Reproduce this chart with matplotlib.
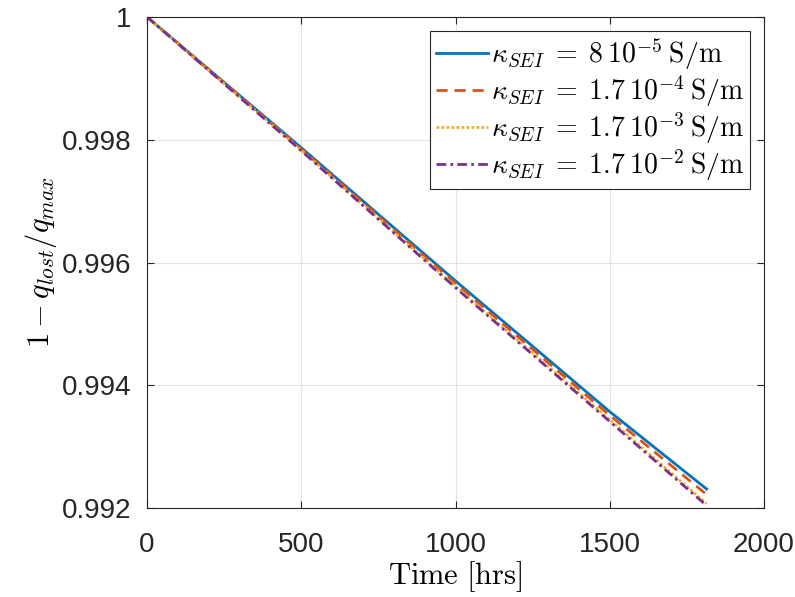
import matplotlib
matplotlib.use('Agg')
import matplotlib.pyplot as plt
import numpy as np

# time points [hrs]
t = [0, 500, 1000, 1500, 1814]

# 1 - q_lost/q_max for each SEI conductivity
q_8e5 = [1.0, 0.99787, 0.99570, 0.99357, 0.99231]
q_17e4 = [1.0, 0.99785, 0.99566, 0.99351, 0.99222]
q_17e3 = [1.0, 0.99783, 0.99561, 0.99344, 0.99207]
q_17e2 = [1.0, 0.99782, 0.99559, 0.99341, 0.99204]

labels = [r'$\kappa_{SEI}\;=\;8\:10^{-5}\:\mathrm{S/m}$',
          r'$\kappa_{SEI}\;=\;1.7\:10^{-4}\:\mathrm{S/m}$',
          r'$\kappa_{SEI}\;=\;1.7\:10^{-3}\:\mathrm{S/m}$',
          r'$\kappa_{SEI}\;=\;1.7\:10^{-2}\:\mathrm{S/m}$']

xticks = [0, 500, 1000, 1500, 2000]
yticks = [0.992, 0.994, 0.996, 0.998, 1.0]
yticklabels = ['0.992', '0.994', '0.996', '0.998', '1']

plt.rcParams['mathtext.fontset'] = 'cm'
plt.rcParams['font.family'] = ['Liberation Sans', 'DejaVu Sans']

fig = plt.figure(figsize=(7.95, 5.97), dpi=100)
ax = fig.add_axes([0.185, 0.149, 0.776, 0.8225])

ax.plot(t, q_8e5, color='#0072BD', lw=2.0, ls='-', label=labels[0])
ax.plot(t, q_17e4, color='#D95319', lw=2.0, ls=(0, (4, 2.5)), label=labels[1])
ax.plot(t, q_17e3, color='#EDB120', lw=2.0, ls=(0, (1, 0.8)), label=labels[2])
ax.plot(t, q_17e2, color='#7E2F8E', lw=2.0, ls=(0, (3.5, 1.5, 1, 1.5)), label=labels[3])

ax.set_xlim(0, 2000)
ax.set_ylim(0.992, 1.0)
ax.set_xticks(xticks)
ax.set_yticks(yticks)
ax.set_yticklabels(yticklabels)
ax.tick_params(direction='in', labelsize=20, colors='#262626', length=5,
               top=True, right=True, labeltop=False, labelright=False)
ax.tick_params(axis='x', pad=17)
ax.tick_params(axis='y', pad=11)
ax.grid(True, color='#e3e3e3', lw=0.8)
for s in ax.spines.values():
    s.set_color('#262626')
    s.set_linewidth(0.8)

ax.set_xlabel(r'$\mathrm{Time\ [hrs]}$', fontsize=22, labelpad=1)
ax.set_ylabel(r'$1-q_{lost}/q_{max}$', fontsize=22, labelpad=2)

leg = ax.legend(loc='upper right', fontsize=20, fancybox=False, framealpha=1,
                edgecolor='#262626', handlelength=1.9, handletextpad=0.1,
                borderpad=0.2, labelspacing=0.05, borderaxespad=0.5)
leg.get_frame().set_linewidth(0.8)

fig.savefig('out.png', dpi=100)
